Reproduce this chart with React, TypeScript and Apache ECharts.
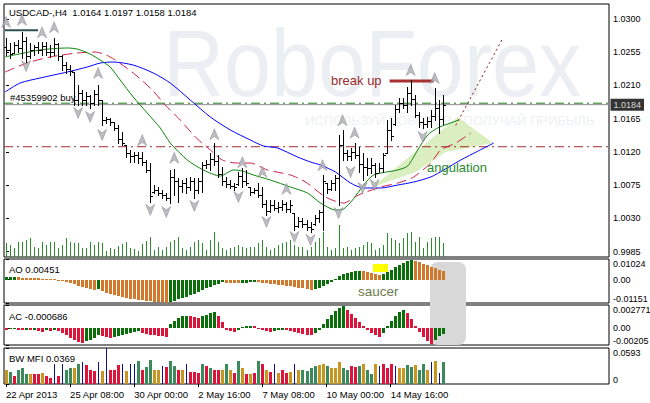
import React, { useEffect, useRef } from "react";
import * as echarts from "echarts";

// ---------- data ----------
const headerText = "USDCAD-,H4\u00a0\u00a01.0164 1.0197 1.0158 1.0184";
const orderText = "#45359902 buy";

// [open, high, low, close] per H4 bar
const ohlc: number[][] = [
  [1.0262, 1.0274, 1.0251, 1.0258], [1.0258, 1.0267, 1.0247, 1.0252], [1.0254, 1.0269, 1.0254, 1.0265],
  [1.0265, 1.0272, 1.0255, 1.0261], [1.0261, 1.0282, 1.0247, 1.0270], [1.0270, 1.0276, 1.0242, 1.0250],
  [1.0250, 1.0267, 1.0247, 1.0258], [1.0258, 1.0265, 1.0251, 1.0262], [1.0262, 1.0269, 1.0254, 1.0258],
  [1.0258, 1.0269, 1.0251, 1.0263], [1.0263, 1.0269, 1.0251, 1.0256], [1.0256, 1.0265, 1.0249, 1.0255],
  [1.0255, 1.0274, 1.0251, 1.0266], [1.0266, 1.0267, 1.0245, 1.0250], [1.0250, 1.0251, 1.0231, 1.0238],
  [1.0238, 1.0242, 1.0227, 1.0232], [1.0232, 1.0238, 1.0224, 1.0230], [1.0228, 1.0228, 1.0184, 1.0190],
  [1.0190, 1.0211, 1.0184, 1.0200], [1.0200, 1.0204, 1.0184, 1.0190], [1.0190, 1.0201, 1.0184, 1.0196],
  [1.0196, 1.0197, 1.0180, 1.0186], [1.0186, 1.0204, 1.0184, 1.0198], [1.0198, 1.0211, 1.0184, 1.0190],
  [1.0190, 1.0190, 1.0156, 1.0163], [1.0163, 1.0167, 1.0159, 1.0164], [1.0164, 1.0166, 1.0156, 1.0160],
  [1.0160, 1.0160, 1.0150, 1.0152], [1.0152, 1.0156, 1.0132, 1.0138], [1.0138, 1.0147, 1.0129, 1.0132],
  [1.0129, 1.0129, 1.0113, 1.0118], [1.0118, 1.0123, 1.0106, 1.0114], [1.0114, 1.0120, 1.0106, 1.0116],
  [1.0116, 1.0120, 1.0105, 1.0112], [1.0112, 1.0120, 1.0102, 1.0106], [1.0106, 1.0109, 1.0093, 1.0096],
  [1.0096, 1.0105, 1.0052, 1.0060], [1.0066, 1.0075, 1.0064, 1.0068], [1.0068, 1.0072, 1.0062, 1.0064],
  [1.0064, 1.0068, 1.0058, 1.0062], [1.0062, 1.0064, 1.0055, 1.0058], [1.0058, 1.0095, 1.0051, 1.0086],
  [1.0086, 1.0097, 1.0062, 1.0080], [1.0080, 1.0085, 1.0052, 1.0074], [1.0074, 1.0082, 1.0066, 1.0078],
  [1.0078, 1.0085, 1.0064, 1.0072], [1.0072, 1.0086, 1.0068, 1.0080], [1.0080, 1.0085, 1.0058, 1.0068],
  [1.0068, 1.0085, 1.0064, 1.0080], [1.0080, 1.0106, 1.0066, 1.0102], [1.0102, 1.0109, 1.0098, 1.0104],
  [1.0104, 1.0118, 1.0095, 1.0110], [1.0110, 1.0132, 1.0102, 1.0108], [1.0108, 1.0116, 1.0086, 1.0090],
  [1.0090, 1.0100, 1.0075, 1.0080], [1.0080, 1.0086, 1.0072, 1.0076], [1.0076, 1.0082, 1.0071, 1.0074],
  [1.0074, 1.0078, 1.0068, 1.0072], [1.0076, 1.0093, 1.0075, 1.0088], [1.0088, 1.0098, 1.0072, 1.0080],
  [1.0080, 1.0095, 1.0075, 1.0078], [1.0072, 1.0072, 1.0062, 1.0066], [1.0066, 1.0071, 1.0064, 1.0068],
  [1.0068, 1.0078, 1.0059, 1.0062], [1.0062, 1.0072, 1.0045, 1.0050], [1.0050, 1.0055, 1.0035, 1.0040],
  [1.0040, 1.0055, 1.0039, 1.0048], [1.0048, 1.0055, 1.0041, 1.0044], [1.0044, 1.0052, 1.0039, 1.0046],
  [1.0046, 1.0055, 1.0041, 1.0050], [1.0050, 1.0052, 1.0039, 1.0042], [1.0042, 1.0055, 1.0039, 1.0048],
  [1.0037, 1.0037, 1.0014, 1.0020], [1.0020, 1.0032, 1.0018, 1.0026], [1.0026, 1.0030, 1.0018, 1.0022],
  [1.0022, 1.0028, 1.0014, 1.0018], [1.0018, 1.0025, 1.0011, 1.0015], [1.0022, 1.0035, 1.0021, 1.0030],
  [1.0030, 1.0041, 1.0025, 1.0038], [1.0038, 1.0089, 1.0014, 1.0080], [1.0078, 1.0078, 1.0064, 1.0070],
  [1.0070, 1.0082, 1.0068, 1.0078], [1.0078, 1.0089, 1.0068, 1.0084], [1.0084, 1.0143, 1.0048, 1.0130],
  [1.0130, 1.0150, 1.0109, 1.0118], [1.0118, 1.0123, 1.0109, 1.0114], [1.0114, 1.0125, 1.0109, 1.0120],
  [1.0120, 1.0132, 1.0112, 1.0116], [1.0116, 1.0127, 1.0093, 1.0104], [1.0104, 1.0118, 1.0082, 1.0100],
  [1.0100, 1.0112, 1.0089, 1.0098], [1.0098, 1.0112, 1.0091, 1.0102], [1.0102, 1.0105, 1.0086, 1.0092],
  [1.0092, 1.0105, 1.0093, 1.0098], [1.0098, 1.0118, 1.0093, 1.0116], [1.0118, 1.0163, 1.0118, 1.0150],
  [1.0150, 1.0166, 1.0136, 1.0142], [1.0158, 1.0184, 1.0156, 1.0178], [1.0178, 1.0193, 1.0174, 1.0186],
  [1.0186, 1.0193, 1.0180, 1.0184], [1.0184, 1.0208, 1.0174, 1.0200], [1.0200, 1.0217, 1.0184, 1.0192],
  [1.0192, 1.0197, 1.0167, 1.0170], [1.0170, 1.0174, 1.0154, 1.0160], [1.0160, 1.0166, 1.0152, 1.0158],
  [1.0158, 1.0167, 1.0154, 1.0162], [1.0162, 1.0177, 1.0154, 1.0168], [1.0168, 1.0207, 1.0163, 1.0180],
  [1.0180, 1.0190, 1.0146, 1.0164], [1.0164, 1.0197, 1.0158, 1.0184],
];

// tick volumes
const volumes = [
  1400, 1200, 900, 1500, 1500, 1700, 1900, 1000, 900, 1500, 1200, 1500, 1500, 900, 1200, 1900, 1500, 1400,
  1400, 900, 900, 1500, 1200, 1500, 1400, 600, 900, 800, 1100, 1300, 1500, 900, 800, 600, 1300, 1600,
  2000, 700, 1000, 700, 1000, 1500, 1700, 2000, 900, 700, 1000, 1500, 1700, 1400, 700, 1700, 2500, 1500,
  900, 700, 900, 1000, 1200, 1000, 900, 1000, 1000, 1400, 1700, 1000, 700, 900, 1200, 1400, 1500, 1700,
  1200, 1000, 1000, 700, 1000, 1500, 1900, 2500, 1000, 700, 900, 3200, 900, 1000, 700, 900, 1000, 1200,
  1500, 1400, 700, 900, 1200, 2400, 1900, 1700, 1400, 1900, 2400, 2500, 1500, 2000, 900, 1500, 1900, 2000,
  2000, 1400,
];

const dateLabels = ["22 Apr 2013", "25 Apr 08:00", "30 Apr 00:00", "2 May 16:00", "7 May 08:00", "10 May 00:00", "14 May 16:00"];
const dateLabelBars = [0, 16, 32, 48, 64, 80, 96];
const priceTicks = [0.9985, 1.003, 1.0075, 1.012, 1.0165, 1.021, 1.0255, 1.03];

// Alligator lines [bar, price]
const jaw = [
  [-0.25, 1.02011], [3.5, 1.02133], [8.5, 1.02201], [15.25, 1.02282], [20.25, 1.0235], [23.5, 1.02404],
  [26.75, 1.02418], [31.75, 1.02377], [36.75, 1.02269], [41, 1.02133], [46, 1.01903], [51, 1.01673],
  [56, 1.01497], [61, 1.01361], [64.25, 1.0128], [67.75, 1.01253], [72.75, 1.01131], [76, 1.01063],
  [78.5, 1.01022], [82.25, 1.00927], [86, 1.00778], [89.25, 1.00711], [93.5, 1.00711], [97.75, 1.00751],
  [101.75, 1.00792], [106, 1.0086], [109.25, 1.00955], [113.5, 1.0109], [121.75, 1.0132],
];
const teeth = [
  [-0.25, 1.02282], [5.25, 1.02404], [11, 1.02486], [17.75, 1.0254], [22.25, 1.02553], [26, 1.02486],
  [31.75, 1.02269], [36.5, 1.02039], [39.75, 1.01835], [43.5, 1.01632], [47.25, 1.01402], [51, 1.01226],
  [54, 1.0109], [57.75, 1.01049], [61, 1.01049], [65.25, 1.00955], [71, 1.00887], [74.75, 1.00792],
  [79.75, 1.00589], [84.25, 1.00507], [88, 1.00616], [93.5, 1.00724], [97.75, 1.00778], [101.75, 1.0086],
  [106, 1.01049], [108.5, 1.01226], [112.25, 1.0132], [116, 1.01456],
];
const lips = [
  [-0.25, 1.02486], [8.5, 1.02581], [15.25, 1.02608], [17.75, 1.02594], [21, 1.02526], [23.5, 1.02445],
  [26, 1.0235], [28.5, 1.02174], [31.75, 1.01944], [35.25, 1.01727], [38.5, 1.01524], [41, 1.0132],
  [45.25, 1.0109], [49.25, 1.00955], [53.5, 1.00873], [56.75, 1.00955], [59, 1.00941], [61.75, 1.00887],
  [66, 1.00819], [71, 1.00724], [75.25, 1.00643], [78.5, 1.00507], [82.25, 1.00413], [84.25, 1.00426],
  [86.5, 1.00548], [89.25, 1.00751], [91.75, 1.00887], [97.75, 1.00955], [100.25, 1.01009], [102.75, 1.01226],
  [105.25, 1.01429], [107.75, 1.01524], [110.25, 1.01578], [113, 1.01632],
];

const upFractals = [
  [0, 1.0296], [4, 1.0299], [9, 1.0282], [12, 1.0289], [23, 1.0227], [34, 1.0136], [42, 1.0112], [52, 1.0144],
  [59, 1.0106], [64, 1.0093], [70, 1.007], [79, 1.0102], [84, 1.0163], [87, 1.0146], [101, 1.0231], [107, 1.022],
];
const downFractals = [
  [5, 1.02364], [18, 1.01727], [21, 1.01673], [24, 1.01429], [36, 1.00413], [40, 1.00385], [47, 1.00467],
  [58, 1.00589], [65, 1.0025], [72, 1.00047], [76, 1.00006], [83, 1.00372], [86, 1.00927], [89, 1.00711],
  [92, 1.00751], [104, 1.01402],
];

const orderPrice = 1.0186;
const bidPrice = 1.0184;
const levelPrice = 1.0127;
const oldLine = [[-0.25, 1.0285], [8, 1.0285]];
const breakUpLine = [[95.75, 1.0216], [106.75, 1.0216]];
const projectionLine = [[112.25, 1.0156], [124, 1.0274]];
const angulationZone = [[91.5, 1.00724], [112.75, 1.01673], [121.5, 1.0132], [109.75, 1.01198], [102.25, 1.00927]];

const ao = [
  0.0011, 0.0012, 0.0013, 0.0012, 0.001, 0.0009, 0.0008, 0.0007, 0.00065, 0.0006, 0.0005, 0.0004, 0.0003,
  -0.0002, -0.0007, -0.0012, -0.0017, -0.0023, -0.0029, -0.0034, -0.004, -0.0045, -0.0051, -0.0048, -0.0058,
  -0.0066, -0.0072, -0.0077, -0.0082, -0.0086, -0.009, -0.0094, -0.0097, -0.01, -0.0102, -0.0104, -0.0106,
  -0.0108, -0.011, -0.0112, -0.0114, -0.0109, -0.0104, -0.0097, -0.009, -0.0083, -0.0076, -0.0069, -0.0061,
  -0.0051, -0.0042, -0.0034, -0.0026, -0.0019, -0.0013, -0.0015, -0.0016, -0.0017, -0.0018, -0.0016, -0.0014,
  -0.0012, -0.0011, -0.0012, -0.0014, -0.0017, -0.002, -0.0022, -0.0025, -0.0027, -0.003, -0.0033, -0.0037,
  -0.004, -0.0043, -0.0046, -0.005, -0.0047, -0.0041, -0.0031, -0.002, -0.0009, 0.0004, 0.0016, 0.0027,
  0.0034, 0.0039, 0.0043, 0.0045, 0.0041, 0.0036, 0.0031, 0.0026, 0.0022, 0.0029, 0.0039, 0.005, 0.0062,
  0.0074, 0.0085, 0.0094, 0.0099, 0.0094, 0.0088, 0.008, 0.0072, 0.0064, 0.0056, 0.0049, 0.00451,
];
const ac = [
  -0.0002, -0.0001, -0.00008, -0.0002, -0.00025, -0.0002, -0.0003, -0.00028, -0.0004, -0.00045, -0.0003,
  -0.0004, -0.0003, -0.0004, -0.0006, -0.0009, -0.0012, -0.0015, -0.0017, -0.0018, -0.0016, -0.0014, -0.0012,
  -0.0008, -0.001, -0.0011, -0.0012, -0.0011, -0.001, -0.0009, -0.0007, -0.0006, -0.0005, -0.0004, -0.0006,
  -0.0007, -0.0008, -0.0009, -0.00095, -0.001, -0.0011, 0.0005, 0.0009, 0.0012, 0.0014, 0.0015, 0.0014,
  0.0013, 0.0012, 0.0015, 0.0016, 0.0018, 0.0019, 0.0014, 0.0007, -0.0002, -0.0004, -0.0005, -0.0003, 0.0001,
  0.0002, 0.0003, 0.0002, -0.0001, -0.0003, -0.0004, -0.0005, -0.0004, -0.0003, -0.0002, -0.0003, -0.0004,
  -0.0005, -0.0006, -0.0007, -0.0008, -0.0009, -0.0006, -0.0002, 0.0005, 0.0011, 0.0016, 0.002, 0.0024,
  0.0026, 0.0022, 0.0017, 0.0012, 0.0007, 0.0002, -0.0003, -0.0006, -0.0009, -0.0011, -0.0006, 0.0002,
  0.0009, 0.0015, 0.0019, 0.0022, 0.0018, 0.0011, 0.0003, -0.0005, -0.0011, -0.0016, -0.0019, -0.0014,
  -0.001, -0.000686,
];
const mfi = [
  0.0231, 0.02, 0.0137, 0.0231, 0.0262, 0.0169, 0.0169, 0.0169, 0.0169, 0.0187, 0.0125, 0.0106, 0.0325,
  0.0137, 0.0325, 0.0231, 0.0262, 0.0262, 0.0325, 0.0356, 0.0312, 0.0231, 0.0212, 0.0356, 0.021, 0.0587,
  0.0231, 0.0231, 0.0312, 0.0325, 0.0212, 0.0325, 0.0325, 0.0375, 0.0231, 0.0275, 0.04, 0.0231, 0.0231,
  0.0293, 0.0275, 0.0375, 0.0293, 0.0231, 0.0231, 0.0325, 0.02, 0.02, 0.0187, 0.0325, 0.0293, 0.0262,
  0.0231, 0.0231, 0.0231, 0.0325, 0.0231, 0.0187, 0.0375, 0.0262, 0.0169, 0.0169, 0.0187, 0.0387, 0.0325,
  0.0231, 0.02, 0.0337, 0.0187, 0.0231, 0.0187, 0.02, 0.0325, 0.0231, 0.0231, 0.0212, 0.0262, 0.0293,
  0.0312, 0.0325, 0.0293, 0.0262, 0.0262, 0.0356, 0.0262, 0.0231, 0.0293, 0.0275, 0.0293, 0.0325, 0.0231,
  0.0169, 0.0337, 0.0293, 0.0325, 0.0262, 0.0325, 0.0293, 0.0262, 0.0262, 0.0306, 0.0275, 0.0312, 0.0231,
  0.0325, 0.0231, 0.0356, 0.0375, 0.0187, 0.0369,
];
// g = green, o = fade (gold), r = fake (red), n = squat (navy)
const mfiKinds =
  "ogrgggorrorrnrnggognrrrnonrrrnonngrggoonrggronrrrgrgrrogorgororgrornorronoggggoogoooggrrgoggonrrrnooggoggononggrn";

// ---------- style ----------
const FONT = '"Liberation Sans", Arial, sans-serif';
const PRICE_MIN = 0.99776;
const PRICE_MAX = 1.03204;
const X_MIN = -0.5;
const X_MAX = 150.5;
const VOL_MAX = 25300;
const AO_MIN = -0.01151, AO_MAX = 0.01024;
const AC_MIN = -0.00205, AC_MAX = 0.002771;
const MFI_MIN = 0, MFI_MAX = 0.0593;

const aoPalette = ["#0a6e0a", "#d2782d"];
const acPalette = ["#0a6e0a", "#dc143c"];
const mfiPalette: Record<string, string> = { g: "#3a8a5c", o: "#c8961e", r: "#dc143c", n: "#10108c" };
const mfiCode = ["g", "o", "r", "n"];

function histRender(palette: string[], widths: number[]) {
  return (params: any, api: any) => {
    const i = api.value(0);
    const v = api.value(1);
    const k = api.value(2);
    const top = api.coord([i, v]);
    const base = api.coord([i, 0]);
    const x = Math.round(top[0]);
    const w = widths[k];
    let y1 = Math.round(Math.min(top[1], base[1]));
    let y2 = Math.round(Math.max(top[1], base[1]));
    if (y2 - y1 < 1) y2 = y1 + 1;
    return {
      type: "rect",
      shape: { x: x - Math.floor(w / 2), y: y1, width: w, height: y2 - y1 },
      style: { fill: palette[k] },
    };
  };
}

function buildOption(): any {
  const gridRects = [
    { top: 4, height: 253 },
    { top: 259, height: 44 },
    { top: 305, height: 40 },
    { top: 348, height: 36 },
  ];
  const grid = gridRects.map((g) => ({
    left: 4,
    width: 605,
    top: g.top,
    height: g.height,
    show: true,
    borderColor: "#000",
    borderWidth: 1,
    backgroundColor: "transparent",
    containLabel: false,
    outerBoundsMode: "none",
  }));

  const xAxis = gridRects.map((_, k) => {
    const base: any = {
      type: "value",
      gridIndex: k,
      min: X_MIN,
      max: X_MAX,
      splitLine: { show: false },
      axisLine: { show: false },
    };
    if (k < 3) {
      return { ...base, axisLabel: { show: false }, axisTick: { show: false } };
    }
    return {
      ...base,
      axisTick: { show: true, customValues: dateLabelBars, length: 3, lineStyle: { color: "#000" } },
      axisLabel: {
        show: true,
        customValues: dateLabelBars,
        formatter: (v: number) => dateLabels[dateLabelBars.indexOf(Math.round(v))] || "",
        align: "left",
        color: "#000",
        fontSize: 9.5,
        fontFamily: FONT,
        margin: 5,
      },
    };
  });

  const indicatorAxis = (grid: number, min: number, max: number, vals: number[], fmt: (v: number) => string) => ({
    type: "value",
    gridIndex: grid,
    position: "right",
    min,
    max,
    splitLine: { show: false },
    axisLine: { show: false },
    axisTick: { show: true, customValues: vals, length: 3, lineStyle: { color: "#000" } },
    axisLabel: {
      show: true,
      customValues: vals,
      formatter: fmt,
      color: "#000",
      fontSize: 9,
      fontFamily: FONT,
      margin: 4,
      verticalAlignMinLabel: "bottom",
      verticalAlignMaxLabel: "top",
    },
  });

  const yAxis = [
    {
      type: "value",
      gridIndex: 0,
      position: "right",
      min: PRICE_MIN,
      max: PRICE_MAX,
      splitLine: { show: false },
      axisLine: { show: false },
      axisTick: { show: true, customValues: priceTicks, length: 3, lineStyle: { color: "#000" } },
      axisLabel: {
        show: true,
        customValues: priceTicks,
        formatter: (v: number) => v.toFixed(4),
        color: "#000",
        fontSize: 9,
        fontFamily: FONT,
        margin: 4,
      },
    },
    { type: "value", gridIndex: 0, min: 0, max: VOL_MAX, show: false, splitLine: { show: false } },
    indicatorAxis(1, AO_MIN, AO_MAX, [AO_MIN, 0, AO_MAX], (v) => (v === 0 ? "0.00" : String(v))),
    indicatorAxis(2, AC_MIN, AC_MAX, [AC_MIN, 0, AC_MAX], (v) => (v === 0 ? "0.00" : String(v))),
    indicatorAxis(3, MFI_MIN, MFI_MAX, [MFI_MIN, MFI_MAX], (v) => (v === 0 ? "0" : String(v))),
  ];

  const ohlcData = ohlc.map((b, i) => [i, b[0], b[1], b[2], b[3]]);
  const volData = volumes.map((v, i) => [i, v]);
  const aoData = ao.map((v, i) => [i, v, i === 0 || v > ao[i - 1] ? 0 : 1]);
  const acData = ac.map((v, i) => [i, v, i > 0 && v > ac[i - 1] ? 0 : 1]);
  const mfiData = mfi.map((v, i) => [i, v, mfiCode.indexOf(mfiKinds[i])]);

  const lineSeries = (data: number[][], color: string, width: number, type: any, z = 3, smooth: any = 0.25) => ({
    type: "line",
    xAxisIndex: 0,
    yAxisIndex: 0,
    data,
    showSymbol: false,
    symbol: "none",
    silent: true,
    smooth,
    z,
    lineStyle: { color, width, type },
  });
  const levelLine = (p: number) => [[X_MIN, p], [X_MAX, p]];

  const series: any[] = [
    {
      type: "custom",
      name: "zone",
      xAxisIndex: 0,
      yAxisIndex: 0,
      silent: true,
      z: 1,
      data: [[0]],
      renderItem: (params: any, api: any) => ({
        type: "polygon",
        shape: { points: angulationZone.map((p) => api.coord(p)) },
        style: { fill: "#daeebf" },
      }),
    },
    {
      type: "custom",
      name: "volume",
      xAxisIndex: 0,
      yAxisIndex: 1,
      silent: true,
      z: 1,
      data: volData,
      encode: { x: 0, y: 1 },
      renderItem: (params: any, api: any) => {
        const i = api.value(0);
        const top = api.coord([i, api.value(1)]);
        const base = api.coord([i, 0]);
        const x = Math.round(top[0]);
        const y1 = Math.round(top[1]);
        return {
          type: "rect",
          shape: { x, y: y1, width: 1, height: Math.round(base[1]) - y1 },
          style: { fill: "#2d8a2d" },
        };
      },
    },
    lineSeries(levelLine(orderPrice), "#1f7a1f", 1, [9, 4, 2, 4], 2, false),
    lineSeries(levelLine(levelPrice), "#a52a2a", 1, [9, 4, 2, 4], 2, false),
    lineSeries(levelLine(bidPrice), "#8c8c8c", 1, "solid", 2, false),
    lineSeries(jaw, "#0000ff", 1, "solid"),
    lineSeries(teeth, "#cc1f45", 1, [10, 5]),
    lineSeries(lips, "#0b850b", 1, "solid"),
    lineSeries(oldLine, "#2f4f4f", 2, "solid", 4, false),
    lineSeries(breakUpLine, "#a83232", 3, "solid", 4, false),
    lineSeries(projectionLine, "#8b1a1a", 1, [2, 3], 4, false),
    {
      type: "scatter",
      name: "bidLabel",
      xAxisIndex: 0,
      yAxisIndex: 0,
      silent: true,
      clip: false,
      z: 10,
      data: [[X_MAX, bidPrice]],
      symbolSize: 1,
      itemStyle: { color: "rgba(0,0,0,0)" },
      label: {
        show: true,
        position: "right",
        distance: 1,
        formatter: () => bidPrice.toFixed(4),
        backgroundColor: "#000",
        color: "#fff",
        padding: [2, 3, 1, 3],
        fontSize: 9,
        fontFamily: FONT,
      },
    },
    {
      type: "custom",
      name: "bars",
      xAxisIndex: 0,
      yAxisIndex: 0,
      silent: true,
      z: 5,
      data: ohlcData,
      encode: { x: 0, y: [1, 2, 3, 4] },
      renderItem: (params: any, api: any) => {
        const i = api.value(0);
        const po = api.coord([i, api.value(1)]);
        const yh = Math.round(api.coord([i, api.value(2)])[1]);
        const yl = Math.round(api.coord([i, api.value(3)])[1]);
        const yo = Math.round(po[1]);
        const yc = Math.round(api.coord([i, api.value(4)])[1]);
        const x = Math.round(po[0]);
        const s = { fill: "#000" };
        return {
          type: "group",
          children: [
            { type: "rect", shape: { x, y: yh, width: 1, height: Math.max(1, yl - yh + 1) }, style: s },
            { type: "rect", shape: { x: x - 2, y: yo, width: 2, height: 1 }, style: s },
            { type: "rect", shape: { x: x + 1, y: yc, width: 2, height: 1 }, style: s },
          ],
        };
      },
    },
    {
      type: "scatter",
      xAxisIndex: 0,
      yAxisIndex: 0,
      silent: true,
      z: 6,
      data: upFractals,
      symbol: "path://M5,0 L10,12 L5,8.5 L0,12 Z",
      symbolSize: [9, 11],
      itemStyle: { color: "#ababb3", borderColor: "#84848c", borderWidth: 0.6 },
    },
    {
      type: "scatter",
      xAxisIndex: 0,
      yAxisIndex: 0,
      silent: true,
      z: 6,
      data: downFractals,
      symbol: "path://M0,0 L5,3.5 L10,0 L5,12 Z",
      symbolSize: [9, 11],
      itemStyle: { color: "#ababb3", borderColor: "#84848c", borderWidth: 0.6 },
    },
    {
      type: "custom",
      name: "AO",
      xAxisIndex: 1,
      yAxisIndex: 2,
      silent: true,
      z: 5,
      data: aoData,
      encode: { x: 0, y: 1 },
      renderItem: histRender(aoPalette, [3, 3]),
    },
    {
      type: "custom",
      name: "AC",
      xAxisIndex: 2,
      yAxisIndex: 3,
      silent: true,
      z: 5,
      data: acData,
      encode: { x: 0, y: 1 },
      renderItem: histRender(acPalette, [3, 3]),
    },
    {
      type: "custom",
      name: "MFI",
      xAxisIndex: 3,
      yAxisIndex: 4,
      silent: true,
      z: 5,
      data: mfiData,
      encode: { x: 0, y: 1 },
      renderItem: histRender(mfiCode.map((c) => mfiPalette[c]), [3, 3, 3, 1]),
    },
  ];

  const txt = (text: string, x: number, y: number, size: number, fill: string, z = 10, extra: any = {}) => ({
    type: "text",
    x,
    y,
    z,
    silent: true,
    style: {
      text,
      fill,
      font: `${size}px ${FONT}`,
      textVerticalAlign: "middle",
      verticalAlign: "middle",
      ...extra,
    },
  });

  const graphic = [
    {
      type: "text",
      x: 163,
      y: 63,
      z: 0,
      scaleX: 0.9,
      silent: true,
      style: {
        text: "RoboForex",
        fill: "#ebeff3",
        font: `94px ${FONT}`,
        textVerticalAlign: "middle",
        verticalAlign: "middle",
      },
    },
    txt("ИСПОЛЬЗУЙ РОБОТОВ - ПОЛУЧАЙ ПРИБЫЛЬ", 305, 120, 13, "#edf0f4", 0),
    {
      type: "rect",
      z: 1,
      silent: true,
      shape: { x: 430, y: 262, width: 36, height: 83, r: 8 },
      style: { fill: "#d8d8d8" },
    },
    {
      type: "rect",
      z: 1,
      silent: true,
      shape: { x: 373, y: 264, width: 15, height: 8 },
      style: { fill: "#ffff00" },
    },
    txt(headerText, 9, 12.5, 9.5, "#000"),
    txt(orderText, 10, 97, 9.5, "#000"),
    txt("AO 0.00451", 9, 269, 9.5, "#000"),
    txt("AC -0.000686", 9, 316, 9.5, "#000"),
    txt("BW MFI 0.0369", 9, 358, 9.5, "#000"),
    txt("break up", 331, 80, 13, "#9b2c2c"),
    txt("angulation", 427, 167, 13, "#2a8a2a"),
    txt("saucer", 358, 291, 13.5, "#6d7a4c"),
  ];

  return {
    animation: false,
    backgroundColor: "#fff",
    grid,
    xAxis,
    yAxis,
    series,
    graphic,
    tooltip: { show: false },
  };
}

export default function App() {
  const ref = useRef<HTMLDivElement>(null);
  useEffect(() => {
    const chart = echarts.init(ref.current as HTMLDivElement, null, { renderer: "svg" });
    chart.setOption(buildOption());
    return () => chart.dispose();
  }, []);
  return (
    <div
      ref={ref}
      style={{ position: "absolute", left: 0, top: 0, width: 650, height: 403, background: "#fff" }}
    />
  );
}
